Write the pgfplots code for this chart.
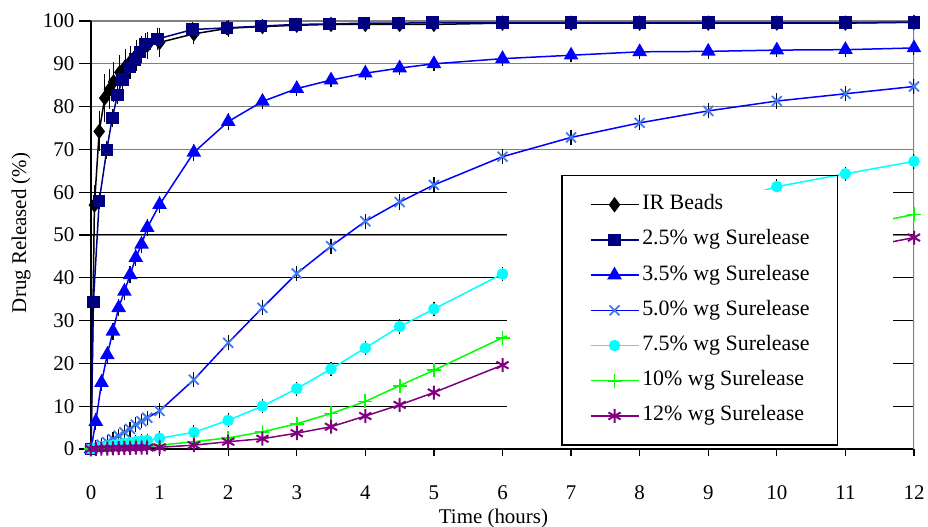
\documentclass[border=0pt]{standalone}
\usepackage{pgfplots}
\pgfplotsset{compat=1.18}
\usepackage{fontspec}
\setmainfont{Liberation Serif}
\definecolor{navyc}{HTML}{000080}
\definecolor{bluec}{HTML}{0000FF}
\definecolor{xblue}{HTML}{3D7BF5}
\definecolor{cyanc}{HTML}{00FFFF}
\definecolor{greenc}{HTML}{00FF00}
\definecolor{purplec}{HTML}{800080}
\pgfplotsset{
  sIR/.style={color=black, line width=1.5bp, mark=diamond*, mark size=6.5bp, mark options={solid, fill=black}},
  sA/.style={color=navyc, line width=1.5bp, mark=square*, mark size=5.5bp, mark options={solid, fill=navyc}},
  sB/.style={color=bluec, line width=1.5bp, mark=triangle*, mark size=7bp, mark options={solid, fill=bluec}},
  sC/.style={color=bluec, line width=1.5bp, mark=x, mark size=7bp, mark options={solid, draw=xblue, line width=1.8bp}},
  sD/.style={color=cyanc, line width=1.5bp, mark=*, mark size=5bp, mark options={solid, fill=cyanc}},
  sE/.style={color=greenc, line width=1.5bp, mark=+, mark size=7bp, mark options={solid, line width=1.8bp}},
  sF/.style={color=purplec, line width=1.5bp, mark=asterisk, mark size=7bp, mark options={solid, line width=2bp}},
  eb/.style={error bars/.cd, y dir=both, y explicit,
    error bar style={black, line width=1bp, solid},
    error mark options={black, line width=1.2bp, mark size=5bp}},
}
\begin{document}
\begin{tikzpicture}
\path[use as bounding box] (-91bp,-78bp) rectangle (837bp,449bp);
\begin{axis}[
  at={(0,0)}, anchor=south west,
  scale only axis, width=823bp, height=428bp,
  xmin=0, xmax=12, ymin=0, ymax=100,
  xtick={0,...,12}, ytick={0,10,...,100},
  axis x line*=bottom, axis y line*=left,
  axis line style={black, line width=1.5bp},
  tick align=outside,
  xtick style={black, line width=1.2bp, /pgfplots/major tick length=7bp},
  ytick style={black, line width=1.2bp, /pgfplots/major tick length=12bp},
  ymajorgrids, major grid style={gray, line width=1.2bp},
  extra y ticks={10,20,30,40,50,60}, extra y tick labels={},
  extra y tick style={grid=major, major grid style={black, line width=1bp}},
  /pgf/number format/assume math mode=true,
  tick label style={font=\fontsize{21}{25}\selectfont},
  xticklabel style={yshift=-29bp},
  yticklabel style={xshift=-9bp},
  label style={font=\fontsize{21}{25}\selectfont},
  xlabel={Time (hours)},
  ylabel={Drug Released (\%)},
  xlabel style={at={(axis description cs:0.489,0)}, anchor=north, inner sep=0pt, yshift=-60bp},
  ylabel style={at={(axis description cs:-0.073,0.505)}, anchor=south, inner sep=0pt},
  legend style={at={(rel axis cs:0.5711,0.6402)}, anchor=north west,
    draw=black, line width=1.5bp, fill=none,
    font=\fontsize{22}{26}\selectfont,
    inner xsep=28bp, inner ysep=19bp,
    row sep=15.2bp, column sep=3bp,
    nodes={inner sep=0pt, text height=15bp, text depth=5bp}},
  legend cell align=left,
  legend image post style={line width=1.5bp},
  legend image code/.code={
    \draw[mark repeat=2,mark phase=2,#1] plot coordinates {(0bp,0bp) (24bp,0bp) (48bp,0bp)};
  },
]
\addlegendimage{sIR}
\addlegendimage{sA}
\addlegendimage{sB}
\addlegendimage{sC}
\addlegendimage{sD}
\addlegendimage{sE}
\addlegendimage{sF}
\draw[gray, line width=1.5bp] (axis cs:12,0) -- (axis cs:12,100);

% IR Beads
\addplot[sIR, forget plot, eb] coordinates {
 (0,0) +- (0,0)
 (0.05,57) +- (0,3.5)
 (0.12,74.2) +- (0,3.5)
 (0.2,82) +- (0,4.5)
 (0.27,84) +- (0,3.5)
 (0.33,85.8) +- (0,3.5)
 (0.42,88) +- (0,3)
 (0.5,89.3) +- (0,3)
 (0.58,90.6) +- (0,2.5)
 (0.66,92) +- (0,2.5)
 (0.74,93.3) +- (0,2)
 (0.82,94.3) +- (0,2)
 (1,95) +- (0,2.2)
 (1.5,97) +- (0,1.3)
 (2,98.3) +- (0,0.8)
 (2.5,98.7) +- (0,0.5)
 (3,99) +- (0,0.5)
 (3.5,99.2) +- (0,0.4)
 (4,99.2) +- (0,0.4)
 (4.5,99.2) +- (0,0.4)
 (5,99.2) +- (0,0.4)
 (6,99.5) +- (0,0.3)
 (7,99.5) +- (0,0.3)
 (8,99.5) +- (0,0.3)
 (9,99.5) +- (0,0.3)
 (10,99.5) +- (0,0.3)
 (11,99.5) +- (0,0.3)
 (12,99.7) +- (0,0.3)
};
% 2.5%
\addplot[sA, forget plot, eb] coordinates {
 (0,0) +- (0,0)
 (0.035,34.3) +- (0,0.8)
 (0.12,58) +- (0,0.8)
 (0.23,69.9) +- (0,1)
 (0.31,77.3) +- (0,1)
 (0.385,82.7) +- (0,1)
 (0.46,86.3) +- (0,1.5)
 (0.57,89.2) +- (0,1.5)
 (0.64,91) +- (0,1.5)
 (0.715,92.7) +- (0,1.5)
 (0.79,94.6) +- (0,1.5)
 (0.97,95.8) +- (0,1.5)
 (1.48,98) +- (0,0.6)
 (1.98,98.4) +- (0,0.5)
 (2.48,98.8) +- (0,0.3)
 (2.98,99.2) +- (0,0.3)
 (3.48,99.3) +- (0,0.3)
 (3.98,99.5) +- (0,0.3)
 (4.48,99.5) +- (0,0.3)
 (4.98,99.6) +- (0,0.3)
 (6,99.6) +- (0,0.3)
 (7,99.6) +- (0,0.3)
 (8,99.6) +- (0,0.3)
 (9,99.6) +- (0,0.3)
 (10,99.6) +- (0,0.3)
 (11,99.6) +- (0,0.3)
 (12,99.7) +- (0,0.3)
};
% 3.5%
\addplot[sB, forget plot, eb] coordinates {
 (0,0) +- (0,0)
 (0.07,6.4) +- (0,0.8)
 (0.153,15.5) +- (0,0.8)
 (0.237,22) +- (0,0.8)
 (0.32,27.5) +- (0,0.8)
 (0.403,33) +- (0,0.8)
 (0.487,36.8) +- (0,0.8)
 (0.57,40.7) +- (0,0.8)
 (0.653,44.7) +- (0,0.8)
 (0.737,47.8) +- (0,0.8)
 (0.82,51.7) +- (0,0.8)
 (1,57.1) +- (0,0.8)
 (1.5,69.3) +- (0,0.8)
 (2,76.5) +- (0,0.8)
 (2.5,81.2) +- (0,0.6)
 (3,84.2) +- (0,0.5)
 (3.5,86.2) +- (0,0.5)
 (4,87.8) +- (0,0.5)
 (4.5,89) +- (0,0.5)
 (5,90) +- (0,0.5)
 (6,91.2) +- (0,0.5)
 (7,92) +- (0,0.5)
 (8,92.8) +- (0,0.5)
 (9,92.9) +- (0,0.5)
 (10,93.2) +- (0,0.5)
 (11,93.3) +- (0,0.5)
 (12,93.7) +- (0,0.5)
};
% 5.0%
\addplot[sC, forget plot, eb] coordinates {
 (0,0) +- (0,0)
 (0.07,0.5) +- (0,0.5)
 (0.153,1.0) +- (0,0.5)
 (0.237,1.6) +- (0,0.5)
 (0.32,2.3) +- (0,0.5)
 (0.403,3.1) +- (0,0.5)
 (0.487,3.9) +- (0,0.5)
 (0.57,4.7) +- (0,0.5)
 (0.653,5.7) +- (0,0.5)
 (0.737,6.5) +- (0,0.5)
 (0.82,7.3) +- (0,0.5)
 (1,8.9) +- (0,0.6)
 (1.5,16.2) +- (0,0.6)
 (2,24.8) +- (0,0.6)
 (2.5,33) +- (0,0.6)
 (3,41) +- (0,0.6)
 (3.5,47.4) +- (0,0.6)
 (4,53.2) +- (0,0.6)
 (4.5,57.7) +- (0,0.6)
 (5,61.7) +- (0,0.6)
 (6,68.3) +- (0,0.6)
 (7,72.8) +- (0,0.6)
 (8,76.2) +- (0,0.6)
 (9,79) +- (0,0.6)
 (10,81.3) +- (0,0.6)
 (11,83) +- (0,0.6)
 (12,84.7) +- (0,0.6)
};
% 7.5%  (points at 7, 8, 9 h lie under the legend)
\addplot[sD, forget plot, mark indices={1,2,3,4,5,6,7,8,9,10,11,12,13,14,15,16,17,18,19,20,21,25,26,27}, eb] coordinates {
 (0,0) +- (0,0)
 (0.07,0.3) +- (0,0.4)
 (0.153,0.5) +- (0,0.4)
 (0.237,0.7) +- (0,0.4)
 (0.32,0.9) +- (0,0.4)
 (0.403,1.1) +- (0,0.4)
 (0.487,1.3) +- (0,0.4)
 (0.57,1.5) +- (0,0.4)
 (0.653,1.7) +- (0,0.4)
 (0.737,1.9) +- (0,0.4)
 (0.82,2.0) +- (0,0.4)
 (1,2.5) +- (0,0.5)
 (1.5,3.9) +- (0,0.5)
 (2,6.7) +- (0,0.5)
 (2.5,10) +- (0,0.5)
 (3,14.1) +- (0,0.5)
 (3.5,18.7) +- (0,0.5)
 (4,23.6) +- (0,0.5)
 (4.5,28.6) +- (0,0.5)
 (5,32.7) +- (0,0.5)
 (6,40.9) +- (0,0.5)
 (7,46.2) +- (0,0.5)
 (8,51.5) +- (0,0.5)
 (9,56.5) +- (0,0.5)
 (10,61.3) +- (0,0.5)
 (11,64.3) +- (0,0.5)
 (12,67.2) +- (0,0.5)
};
% 10%  (points at 7 to 11 h lie under the legend)
\addplot[sE, forget plot, mark indices={1,2,3,4,5,6,7,8,9,10,11,12,13,14,15,16,17,18,19,20,21,27}, eb] coordinates {
 (0,0) +- (0,0)
 (0.07,0.1) +- (0,0.3)
 (0.153,0.15) +- (0,0.3)
 (0.237,0.2) +- (0,0.3)
 (0.32,0.3) +- (0,0.3)
 (0.403,0.35) +- (0,0.3)
 (0.487,0.4) +- (0,0.3)
 (0.57,0.5) +- (0,0.3)
 (0.653,0.6) +- (0,0.3)
 (0.737,0.7) +- (0,0.3)
 (0.82,0.75) +- (0,0.3)
 (1,0.9) +- (0,0.4)
 (1.5,1.7) +- (0,0.4)
 (2,2.6) +- (0,0.4)
 (2.5,4.0) +- (0,0.4)
 (3,5.9) +- (0,0.4)
 (3.5,8.3) +- (0,0.4)
 (4,11.1) +- (0,0.4)
 (4.5,14.8) +- (0,0.4)
 (5,18.4) +- (0,0.4)
 (6,26) +- (0,0.4)
 (7,32) +- (0,0.4)
 (8,38) +- (0,0.4)
 (9,43.5) +- (0,0.4)
 (10,48) +- (0,0.4)
 (11,51.6) +- (0,0.4)
 (12,54.8) +- (0,0.4)
};
% 12%  (points at 7 to 11 h lie under the legend)
\addplot[sF, forget plot, mark indices={1,2,3,4,5,6,7,8,9,10,11,12,13,14,15,16,17,18,19,20,21,27}, eb] coordinates {
 (0,0) +- (0,0)
 (0.07,0.05) +- (0,0.3)
 (0.153,0.1) +- (0,0.3)
 (0.237,0.1) +- (0,0.3)
 (0.32,0.15) +- (0,0.3)
 (0.403,0.2) +- (0,0.3)
 (0.487,0.2) +- (0,0.3)
 (0.57,0.25) +- (0,0.3)
 (0.653,0.3) +- (0,0.3)
 (0.737,0.3) +- (0,0.3)
 (0.82,0.35) +- (0,0.3)
 (1,0.4) +- (0,0.3)
 (1.5,0.9) +- (0,0.4)
 (2,1.7) +- (0,0.4)
 (2.5,2.4) +- (0,0.4)
 (3,3.7) +- (0,0.4)
 (3.5,5.2) +- (0,0.4)
 (4,7.7) +- (0,0.4)
 (4.5,10.3) +- (0,0.4)
 (5,13.2) +- (0,0.4)
 (6,19.6) +- (0,0.4)
 (7,25.5) +- (0,0.4)
 (8,31) +- (0,0.4)
 (9,36.5) +- (0,0.4)
 (10,41.5) +- (0,0.4)
 (11,46.3) +- (0,0.4)
 (12,49.4) +- (0,0.4)
};
\fill[white] (axis cs:6.06,0.45) rectangle (axis cs:11.69,60.5);
\legend{IR Beads, 2.5\% wg Surelease, 3.5\% wg Surelease, 5.0\% wg Surelease, 7.5\% wg Surelease, 10\% wg Surelease, 12\% wg Surelease}
\end{axis}
\end{tikzpicture}
\end{document}
